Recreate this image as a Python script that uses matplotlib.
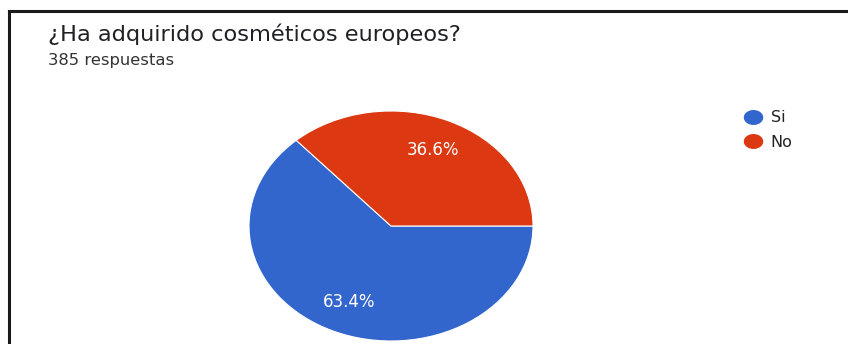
#%% Pie chart - ¿Ha adquirido cosméticos europeos?
import matplotlib.pyplot as plt
from matplotlib.lines import Line2D
from matplotlib.path import Path
import numpy as np

#%% Data
labels = ['Si', 'No']
counts = [244, 141]
colors = ['#3366CC', '#DC3912']
title = '¿Ha adquirido cosméticos europeos?'
subtitle = '385 respuestas'

plt.rcParams['font.family'] = ['DejaVu Sans']

#%% Figure
W, H = 848, 344
fig = plt.figure(figsize=(W / 100, H / 100), dpi=100)

# pie drawn as an ellipse: axes box 284 x 230 px centred at (391, 226)
ax = fig.add_axes([249 / W, (H - 226 - 115) / H, 284 / W, 230 / H])
wedges, texts, autotexts = ax.pie(counts, colors=colors, startangle=0, counterclock=False,
                                  autopct='%1.1f%%', pctdistance=0.72,
                                  wedgeprops=dict(edgecolor='white', linewidth=0.8),
                                  textprops=dict(color='white', fontsize=12))
ax.set_aspect('auto')
ax.set_xlim(-1, 1)
ax.set_ylim(-1, 1)

#%% Titles
fig.text(48 / W, 1 - 34 / H, title, fontsize=16.2, color='#202124', va='center', ha='left')
fig.text(48 / W, 1 - 61 / H, subtitle, fontsize=11.8, color='#333333', va='center', ha='left')

#%% Legend (slightly flattened dots, like the stretched original)
th = np.linspace(0, 2 * np.pi, 60)
dot = Path(np.column_stack([np.cos(th), 0.75 * np.sin(th)]))
handles = [Line2D([], [], marker=dot, linestyle='none', markersize=13,
                  markerfacecolor=c, markeredgecolor=c) for c in colors]
fig.legend(handles, labels, loc='upper left', bbox_to_anchor=(729 / W, 1 - 96 / H),
           frameon=False, fontsize=11.5, handletextpad=0.5, labelspacing=0.6,
           handlelength=1.2, labelcolor='#222222')

#%% Border (top and left only)
fig.add_artist(Line2D([9 / W, 9 / W], [0, 1 - 11 / H], color='#1a1a1a', linewidth=2.2))
fig.add_artist(Line2D([9 / W, 1], [1 - 11 / H, 1 - 11 / H], color='#1a1a1a', linewidth=2.2))

fig.savefig('out.png', dpi=100)
